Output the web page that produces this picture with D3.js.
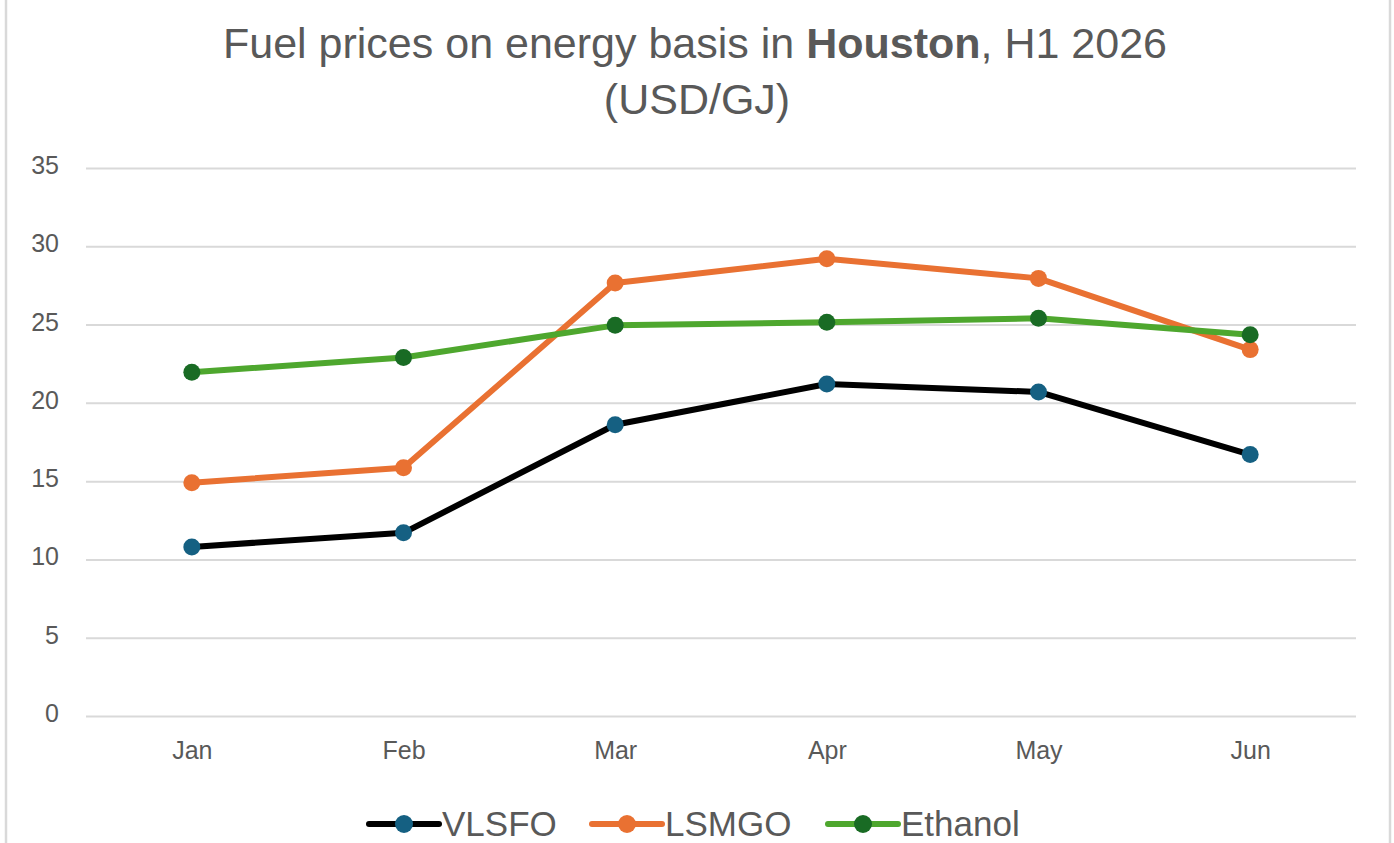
<!DOCTYPE html>
<html>
<head>
<meta charset="utf-8">
<script src="https://cdn.jsdelivr.net/npm/d3@7"></script>
<style>
  body { margin: 0; background: #fff; }
  text { font-family: "Liberation Sans", Arial, sans-serif; }
</style>
</head>
<body>
<script>
// Fuel prices in Houston, first half of 2026 (USD per GJ)
var months = ["Jan", "Feb", "Mar", "Apr", "May", "Jun"];
var vlsfo = [10.8, 11.7, 18.6, 21.2, 20.7, 16.7];
var lsmgo = [14.9, 15.85, 27.65, 29.2, 27.95, 23.4];
var ethanol = [21.95, 22.9, 24.95, 25.15, 25.4, 24.35];
var yTicks = [0, 5, 10, 15, 20, 25, 30, 35];

var seriesNames = ["VLSFO", "LSMGO", "Ethanol"];
var seriesValues = [vlsfo, lsmgo, ethanol];
var lineColors = ["#000000", "#E97132", "#4EA72E"];
var markerColors = ["#156082", "#E97132", "#196B24"];

var W = 1394, H = 843;
var svg = d3.select("body").append("svg").attr("width", W).attr("height", H);

// light frame on the sides
svg.append("line").attr("x1", 6).attr("x2", 6).attr("y1", 0).attr("y2", H)
  .attr("stroke", "#d9d9d9").attr("stroke-width", 2.5);
svg.append("line").attr("x1", 1390).attr("x2", 1390).attr("y1", 0).attr("y2", H)
  .attr("stroke", "#d9d9d9").attr("stroke-width", 2.5);

// title
var title = svg.append("text").attr("x", 695).attr("y", 58)
  .attr("text-anchor", "middle").attr("font-size", 43).attr("fill", "#595959");
title.append("tspan").text("Fuel prices on energy basis in ");
title.append("tspan").attr("font-weight", "bold").text("Houston");
title.append("tspan").text(", H1 2026");
svg.append("text").attr("x", 697).attr("y", 114)
  .attr("text-anchor", "middle").attr("font-size", 43).attr("fill", "#595959")
  .text("(USD/GJ)");

// scales
var plotLeft = 86, plotRight = 1356;
var x = d3.scalePoint().domain(months).range([plotLeft, plotRight]).padding(0.5);
var y = d3.scaleLinear().domain([0, 35]).range([716, 168]);

// gridlines + y labels
var yAxis = svg.append("g").attr("transform", "translate(" + plotLeft + ",0)")
  .call(d3.axisLeft(y).tickValues(yTicks).tickSize(-(plotRight - plotLeft)).tickPadding(27));
yAxis.select(".domain").remove();
yAxis.selectAll(".tick line").attr("stroke", "#d9d9d9").attr("stroke-width", 2);
yAxis.selectAll(".tick text").attr("fill", "#595959").attr("font-size", 25)
  .attr("dy", "0.22em")
  .attr("font-family", "Liberation Sans, Arial, sans-serif");

// x labels
var xAxis = svg.append("g").attr("transform", "translate(0,716)")
  .call(d3.axisBottom(x).tickSize(0).tickPadding(25));
xAxis.select(".domain").remove();
xAxis.selectAll(".tick text").attr("fill", "#595959").attr("font-size", 25)
  .attr("font-family", "Liberation Sans, Arial, sans-serif");

// lines and markers
var line = d3.line().x(function(d, i){ return x(months[i]); }).y(function(d){ return y(d); });

for (var s = 0; s < seriesValues.length; s++) {
  svg.append("path").datum(seriesValues[s])
    .attr("d", line)
    .attr("fill", "none")
    .attr("stroke", lineColors[s])
    .attr("stroke-width", 6)
    .attr("stroke-linejoin", "round")
    .attr("stroke-linecap", "round");
}
for (var s = 0; s < seriesValues.length; s++) {
  svg.selectAll(".m" + s).data(seriesValues[s]).enter().append("circle")
    .attr("class", "m" + s)
    .attr("cx", function(d, i){ return x(months[i]); })
    .attr("cy", function(d){ return y(d); })
    .attr("r", 8.5)
    .attr("fill", markerColors[s]);
}

// legend
var legendX = [369, 592, 828];
var legendY = 824;
var legend = svg.selectAll(".legend").data(seriesNames).enter().append("g")
  .attr("class", "legend")
  .attr("transform", function(d, i){ return "translate(" + legendX[i] + "," + legendY + ")"; });
legend.append("line").attr("x1", 0).attr("x2", 70).attr("y1", 0).attr("y2", 0)
  .attr("stroke", function(d, i){ return lineColors[i]; })
  .attr("stroke-width", 6).attr("stroke-linecap", "round");
legend.append("circle").attr("cx", 35).attr("cy", 0).attr("r", 9)
  .attr("fill", function(d, i){ return markerColors[i]; });
legend.append("text").attr("x", 73).attr("y", 12)
  .attr("font-size", 35).attr("fill", "#595959")
  .text(function(d){ return d; });
</script>
</body>
</html>
